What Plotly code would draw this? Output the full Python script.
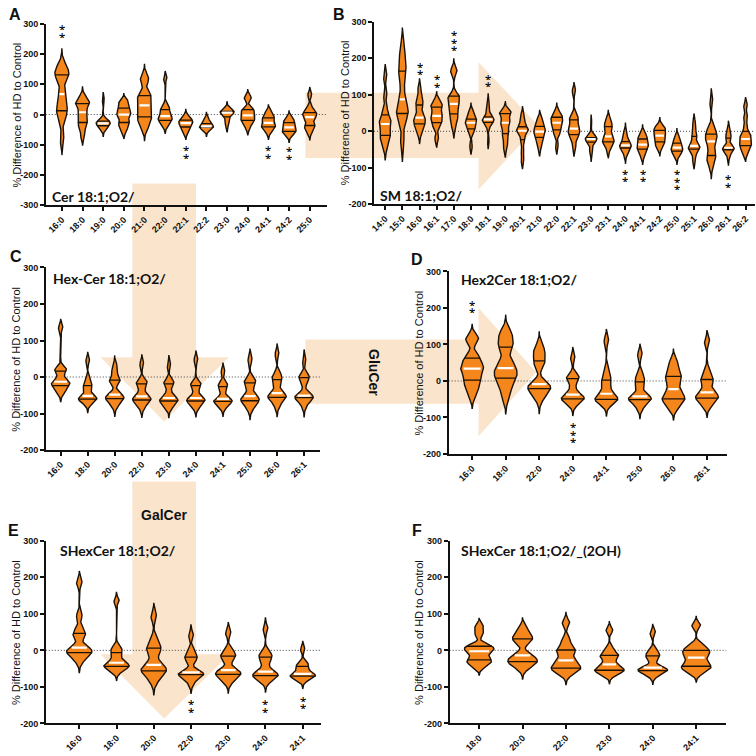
import numpy as np
import plotly.graph_objects as go

W = H = 756
ORANGE = '#F5861C'
PEACH = '#FAE5CC'

# ---------------- data ----------------
A_cats = ['16:0', '18:0', '19:0', '20:0', '21:0', '22:0', '22:1', '22:2', '23:0', '24:0', '24:1', '24:2', '25:0']
A_vals = [
    [165, 150, 135, 130, 120, 80, 55, 30, 15, 5, -20, -80],
    [60, 45, 40, 35, 30, 10, 5, -10, -25, -30, -45, -70],
    [50, -15, -20, -22, -25, -28, -30, -32, -36, -40, -45, -50],
    [45, 40, 25, 20, 10, 2, -2, -10, -25, -30, -40, -55],
    [125, 110, 70, 60, 50, 35, 25, 10, -5, -15, -25, -45],
    [120, 30, 20, 15, 5, -3, -8, -12, -18, -22, -28, -40],
    [-5, -12, -15, -20, -25, -27, -30, -35, -40, -45, -55, -60],
    [-15, -18, -25, -32, -35, -38, -40, -40, -42, -45, -48, -50],
    [20, 15, 12, 10, 8, 7, 5, 2, -5, -15, -25, -35],
    [60, 50, 20, 15, 10, 0, -5, -10, -18, -22, -30, -45],
    [10, 0, -8, -12, -15, -25, -30, -35, -40, -43, -48, -60],
    [-10, -18, -22, -28, -35, -40, -45, -50, -55, -57, -62, -70],
    [65, 25, 10, 5, 2, -5, -12, -20, -35, -40, -45, -60],
]
A_sig = [('16:0', '**', 278), ('22:1', '**', -122), ('24:1', '**', -122), ('24:2', '**', -125)]

B_cats = ['14:0', '15:0', '16:0', '16:1', '17:0', '18:0', '18:1', '19:0', '20:1', '21:0', '22:0',
          '22:1', '23:0', '23:1', '24:0', '24:1', '24:2', '25:0', '25:1', '26:0', '26:1', '26:2']
B_vals = [
    [150, 100, 60, 40, 30, 25, 15, 5, -10, -15, -25, -45],
    [230, 200, 180, 160, 140, 100, 75, 60, 50, 45, 20, -30],
    [115, 90, 78, 70, 50, 40, 35, 28, 22, 15, 5, -5],
    [85, 75, 70, 65, 55, 45, 40, 35, 25, 20, 10, -20],
    [170, 160, 100, 95, 90, 80, 70, 65, 50, 40, 30, 10],
    [55, 45, 38, 32, 28, 25, 22, 15, 8, 3, -5, -40],
    [80, 60, 45, 38, 35, 33, 32, 28, 25, 22, 10, -25],
    [55, 52, 50, 48, 30, 25, 22, 10, -5, -10, -30, -45],
    [45, 30, 20, 10, 5, 3, 0, -5, -20, -30, -55, -80],
    [35, 25, 18, 12, 5, 0, -2, -8, -15, -22, -30, -45],
    [55, 45, 40, 38, 30, 25, 22, 15, 5, 0, -10, -40],
    [110, 45, 35, 30, 20, 10, 5, 0, -8, -12, -25, -45],
    [22, -10, -15, -18, -20, -20, -22, -25, -28, -35, -50, -60],
    [35, 25, 15, 12, 0, -10, -18, -22, -28, -32, -35, -50],
    [0, -10, -22, -30, -33, -37, -40, -42, -45, -48, -55, -65],
    [-5, -12, -18, -22, -30, -35, -38, -42, -48, -52, -58, -68],
    [15, 10, 5, 2, -5, -10, -14, -20, -28, -32, -38, -45],
    [-15, -22, -25, -35, -40, -43, -46, -50, -53, -57, -60, -68],
    [25, 5, -10, -15, -30, -38, -42, -45, -48, -52, -62, -80],
    [82, 10, 0, -10, -15, -25, -30, -45, -65, -70, -80, -95],
    [5, -10, -15, -20, -38, -44, -46, -48, -50, -52, -55, -70],
    [70, 40, 15, -5, -10, -18, -24, -30, -38, -42, -50, -60],
]
B_sig = [('15:0', '**', 312), ('16:0', '**', 173), ('16:1', '**', 139), ('17:0', '***', 250),
         ('18:1', '**', 141), ('24:0', '**', -120), ('24:1', '**', -120), ('25:0', '***', -131),
         ('26:1', '**', -135)]

C_cats = ['16:0', '18:0', '20:0', '22:0', '23:0', '24:0', '24:1', '25:0', '26:0', '26:1']
C_vals = [
    [135, 25, 20, 15, 0, -12, -14, -18, -22, -28, -35, -45],
    [45, -5, -20, -25, -35, -48, -55, -58, -60, -63, -66, -75],
    [30, 15, -5, -10, -15, -45, -52, -55, -58, -62, -68, -80],
    [35, -10, -15, -20, -35, -50, -56, -60, -62, -66, -72, -85],
    [32, -10, -15, -20, -40, -55, -60, -63, -65, -68, -75, -85],
    [47, -15, -20, -25, -40, -55, -60, -63, -65, -68, -75, -85],
    [15, -15, -22, -28, -40, -58, -62, -64, -66, -70, -75, -85],
    [48, -5, -10, -18, -30, -50, -55, -60, -64, -68, -75, -88],
    [62, 8, 2, -10, -20, -40, -48, -52, -55, -58, -65, -80],
    [45, 5, 0, -2, -20, -50, -52, -53, -55, -60, -65, -80],
]
C_sig = []

D_cats = ['16:0', '18:0', '22:0', '24:0', '24:1', '25:0', '26:0', '26:1']
D_vals = [
    [120, 110, 70, 60, 45, 38, 30, 20, 5, -5, -20, -40],
    [135, 120, 100, 90, 55, 40, 30, 20, 10, 0, -20, -45],
    [95, 80, 70, 50, 45, -5, -12, -15, -20, -25, -35, -50],
    [62, 15, 10, 5, -15, -35, -40, -45, -48, -52, -55, -65],
    [110, 30, 10, 0, -15, -30, -40, -45, -50, -52, -56, -65],
    [72, 20, 5, -5, -20, -40, -44, -46, -50, -55, -60, -75],
    [55, 35, 20, 10, 0, -15, -30, -40, -48, -52, -60, -75],
    [108, 30, 10, 2, -10, -28, -35, -42, -46, -50, -58, -70],
]
D_sig = [('16:0', '**', 205), ('24:0', '***', -141)]

E_cats = ['16:0', '18:0', '20:0', '22:0', '23:0', '24:0', '24:1']
E_vals = [
    [185, 95, 60, 42, 40, 10, 5, 0, -5, -10, -15, -30],
    [136, 10, 0, -8, -20, -30, -38, -40, -43, -46, -50, -60],
    [92, 30, 10, 5, -10, -35, -45, -50, -55, -60, -68, -85],
    [42, 0, -15, -20, -30, -59, -62, -63, -66, -68, -75, -90],
    [47, 0, -10, -18, -25, -50, -58, -62, -65, -68, -75, -88],
    [60, -5, -15, -20, -35, -55, -62, -66, -68, -72, -76, -85],
    [2, -35, -40, -45, -55, -63, -66, -68, -70, -72, -75, -82],
]
E_sig = [('22:0', '**', -151), ('24:0', '**', -151), ('24:1', '**', -142)]

F_cats = ['18:0', '20:0', '22:0', '23:0', '24:0', '24:1']
F_vals = [
    [65, 45, 15, 10, 5, 0, -5, -15, -25, -30, -35, -45],
    [60, 45, 35, 30, 20, -12, -15, -25, -30, -33, -38, -50],
    [75, 30, 10, -2, -5, -25, -30, -40, -48, -50, -55, -65],
    [55, 5, -10, -15, -20, -35, -42, -50, -54, -56, -58, -68],
    [48, 0, -10, -17, -25, -45, -50, -52, -55, -57, -60, -70],
    [68, 15, 5, -2, -8, -15, -25, -35, -42, -48, -52, -62],
]
F_sig = []

Y_LABEL = '% Difference of HD to Control'

# ---------------- layout description ----------------
panels = [
    dict(cats=A_cats, vals=A_vals, sig=A_sig, title='Cer 18:1;O2/', letter='A', yr=(-300, 300),
         px=(42, 325), py=(19, 203), xr=(-0.78, 12.85), tpos=(46, 194), lpos=(11, 10), ylx=13),
    dict(cats=B_cats, vals=B_vals, sig=B_sig, title='SM 18:1;O2/', letter='B', yr=(-200, 300),
         px=(372, 755), py=(17, 202), xr=(-0.65, 21.55), tpos=(376, 193), lpos=(337, 10), ylx=343),
    dict(cats=C_cats, vals=C_vals, sig=C_sig, title='Hex-Cer 18:1;O2/', letter='C', yr=(-200, 300),
         px=(42, 318), py=(266, 451), xr=(-0.55, 9.6), tpos=(47, 277), lpos=(12, 255), ylx=12),
    dict(cats=D_cats, vals=D_vals, sig=D_sig, title='Hex2Cer 18:1;O2/', letter='D', yr=(-200, 300),
         px=(447, 727), py=(270, 455), xr=(-0.7, 7.6), tpos=(457, 278), lpos=(415, 258), ylx=417),
    dict(cats=E_cats, vals=E_vals, sig=E_sig, title='SHexCer 18:1;O2/', letter='E', yr=(-200, 300),
         px=(42, 319), py=(543, 728), xr=(-0.9, 6.5), tpos=(54, 553), lpos=(10, 533), ylx=12),
    dict(cats=F_cats, vals=F_vals, sig=F_sig, title='SHexCer 18:1;O2/_(2OH)', letter='F', yr=(-200, 300),
         px=(448, 726), py=(543, 728), xr=(-0.68, 5.69), tpos=(457, 553), lpos=(415, 533), ylx=417),
]

BW_FAC, BW_LO, BW_HI, CUT, HW = 0.5, 8.0, 18.0, 3.0, 0.34


def kde(vals):
    v = np.asarray(vals, float)
    n = len(v)
    sd = v.std(ddof=1)
    q1, q3 = np.percentile(v, [25, 75])
    s = min(sd, (q3 - q1) / 1.34) if q3 > q1 else sd
    bw = float(np.clip(BW_FAC * 0.9 * s * n ** -0.2, BW_LO, BW_HI))
    ys = np.linspace(v.min() - CUT * bw, v.max() + CUT * bw, 300)
    dens = np.exp(-0.5 * ((ys[:, None] - v[None, :]) / bw) ** 2).sum(1)
    dmax = dens.max()

    def width(y):
        return HW * np.exp(-0.5 * ((y - v) / bw) ** 2).sum() / dmax
    return ys, HW * dens / dmax, width


def px2x(p):
    return p / W


def px2y(p):
    return 1 - p / H


fig = go.Figure()
annotations = []
shapes = []


def poly(points):
    return 'M ' + ' L '.join(f'{px2x(x):.5f},{px2y(y):.5f}' for x, y in points) + ' Z'


# background arrows (paper coordinates, drawn below plots)
arrows = [
    [(303, 89), (477, 89), (477, 58), (537, 122), (477, 187), (477, 155), (303, 155)],
    [(129, 181), (193, 181), (193, 357), (226, 357), (161, 422), (97, 357), (129, 357)],
    [(303, 339), (477, 339), (477, 307), (535, 372), (477, 437), (477, 404), (303, 404)],
    [(129, 483), (193, 483), (193, 658), (227, 658), (161, 723), (97, 658), (129, 658)],
]
for a in arrows:
    shapes.append(dict(type='path', path=poly(a), xref='paper', yref='paper',
                       fillcolor=PEACH, line=dict(width=0), layer='below'))

annotations.append(dict(text='<b>GluCer</b>', x=px2x(372), y=px2y(372), xref='paper', yref='paper',
                        xanchor='center', yanchor='middle', textangle=90, showarrow=False,
                        font=dict(family='Liberation Sans', size=14, color='#111')))
annotations.append(dict(text='<b>GalCer</b>', x=px2x(161), y=px2y(517), xref='paper', yref='paper',
                        xanchor='center', yanchor='middle', showarrow=False,
                        font=dict(family='Liberation Sans', size=14, color='#111')))

tickfont = dict(family='Liberation Sans', size=9, color='#111', weight='bold')

STAR_STEP = 7.5   # px between stacked asterisks
STAR_BOX = 7      # px height of each asterisk's text box

for k, p in enumerate(panels):
    sfx = '' if k == 0 else str(k + 1)
    xa, ya = 'x' + sfx, 'y' + sfx
    cats = p['cats']
    n = len(cats)
    ymin, ymax = p['yr']
    ticks = list(range(ymin, ymax + 1, 100))
    fig.update_layout(**{
        'xaxis' + sfx: dict(domain=[px2x(p['px'][0]), px2x(p['px'][1])], range=list(p['xr']),
                            anchor=ya, tickmode='array', tickvals=list(range(n)), ticktext=cats,
                            tickangle=-45, showline=True, linecolor='#111', linewidth=1.5,
                            ticks='outside', ticklen=4, tickwidth=1.5, tickcolor='#111',
                            showgrid=False, zeroline=False, tickfont=tickfont, fixedrange=True),
        'yaxis' + sfx: dict(domain=[px2y(p['py'][1]), px2y(p['py'][0])], range=[ymin, ymax],
                            anchor=xa, tickmode='array', tickvals=ticks, ticktext=[str(t) for t in ticks],
                            showline=True, linecolor='#111', linewidth=1.5, ticks='outside',
                            ticklen=4, tickwidth=1.5, tickcolor='#111', showgrid=False,
                            zeroline=False, tickfont=tickfont, fixedrange=True),
    })
    shapes.append(dict(type='line', xref=xa + ' domain', yref=ya, x0=0, x1=1, y0=0, y1=0,
                       line=dict(color='#444', width=1, dash='1px,2px'), layer='below'))

    qx, qy, mx, my = [], [], [], []
    for i, vals in enumerate(p['vals']):
        ys, w, width = kde(vals)
        xs = np.concatenate([i + w, (i - w)[::-1]])
        yy = np.concatenate([ys, ys[::-1]])
        fig.add_trace(go.Scatter(x=xs, y=yy, xaxis=xa, yaxis=ya, mode='lines', fill='toself',
                                 fillcolor=ORANGE, line=dict(color='#1a1108', width=1.4),
                                 hoverinfo='skip', showlegend=False))
        q1, med, q3 = np.percentile(vals, [25, 50, 75])
        for q in (q1, q3):
            ww = width(q)
            qx += [i - ww, i + ww, None]
            qy += [q, q, None]
        ww = width(med) * 0.75
        mx += [i - ww, i + ww, None]
        my += [med, med, None]
    fig.add_trace(go.Scatter(x=qx, y=qy, xaxis=xa, yaxis=ya, mode='lines',
                             line=dict(color='#1a1108', width=1.3), hoverinfo='skip', showlegend=False))
    fig.add_trace(go.Scatter(x=mx, y=my, xaxis=xa, yaxis=ya, mode='lines',
                             line=dict(color='white', width=2.2), hoverinfo='skip', showlegend=False))

    # significance stars, stacked vertically as in the original (compact text boxes)
    for cat, stars, yv in p['sig']:
        m = len(stars)
        for j in range(m):
            annotations.append(dict(text='*', x=cats.index(cat), y=yv, xref=xa, yref=ya,
                                    xanchor='center', yanchor='middle', showarrow=False,
                                    height=STAR_BOX, valign='top', borderpad=0,
                                    yshift=((m - 1) / 2 - j) * STAR_STEP,
                                    font=dict(family='Liberation Sans', size=16, color='#000')))

    annotations.append(dict(text='<b>' + p['title'] + '</b>', x=px2x(p['tpos'][0]), y=px2y(p['tpos'][1]),
                            xref='paper', yref='paper', xanchor='left', yanchor='middle', showarrow=False,
                            font=dict(family='Lato', size=14, color='#111')))
    annotations.append(dict(text='<b>' + p['letter'] + '</b>', x=px2x(p['lpos'][0]), y=px2y(p['lpos'][1]),
                            xref='paper', yref='paper', xanchor='center', yanchor='middle', showarrow=False,
                            font=dict(family='Liberation Sans', size=16, color='#111')))
    yc = (p['py'][0] + p['py'][1]) / 2
    annotations.append(dict(text=Y_LABEL, x=px2x(p['ylx']), y=px2y(yc), xref='paper', yref='paper',
                            xanchor='center', yanchor='middle', textangle=-90, showarrow=False,
                            font=dict(family='Liberation Sans', size=11, color='#111')))

fig.update_layout(width=W, height=H, margin=dict(l=0, r=0, t=0, b=0),
                  paper_bgcolor='white', plot_bgcolor='rgba(0,0,0,0)',
                  shapes=shapes, annotations=annotations, showlegend=False)

fig.write_html('out.html', config={'displayModeBar': False},
               post_script="document.body.style.margin='0';document.body.style.overflow='hidden';")
